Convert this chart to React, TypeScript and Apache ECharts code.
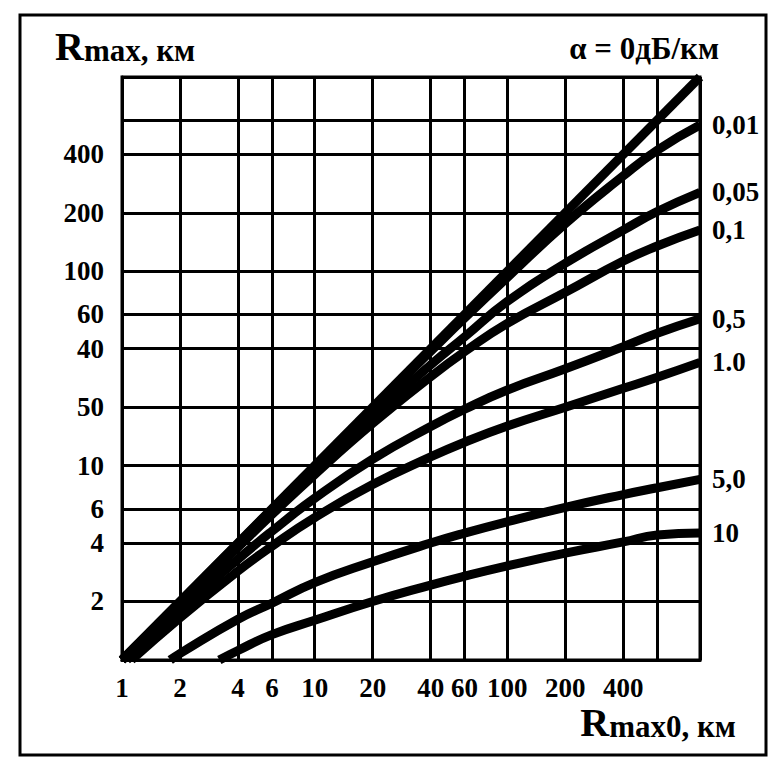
import React, { useEffect, useRef } from 'react';
import * as echarts from 'echarts';

// grid line positions (both axes), as drawn on the nomogram
const gridValues = [1, 2, 4, 6, 10, 20, 40, 60, 100, 200, 400, 600, 1000];
// printed tick labels
const xTickValues = [1, 2, 4, 6, 10, 20, 40, 60, 100, 200, 400];
const yTickValues = [2, 4, 6, 10, 20, 40, 60, 100, 200, 400];
const yTickText: Record<number, string> = { 2: '2', 4: '4', 6: '6', 10: '10', 20: '50', 40: '40', 60: '60', 100: '100', 200: '200', 400: '400' };

// curves: [Rmax0, Rmax]
const alpha0 = [[1, 1], [1000, 1000]];
const alpha001 = [[1, 1], [10, 9.9], [20, 19.7], [40, 38.8], [60, 57.5], [100, 93], [200, 176], [400, 310], [600, 420], [1000, 566]];
const alpha005 = [[1, 1], [2, 1.98], [4, 3.9], [6, 5.8], [10, 9.5], [20, 18], [40, 33], [60, 46], [100, 70], [200, 110], [400, 163], [600, 203], [1000, 255]];
const alpha01 = [[1, 1], [2, 1.95], [4, 3.8], [6, 5.6], [10, 9], [20, 16.5], [40, 28.7], [60, 38.6], [100, 54], [200, 78], [400, 113], [600, 135], [1000, 163]];
const alpha05 = [[1.06, 1], [2, 1.8], [4, 3.3], [6, 4.6], [10, 6.8], [20, 10.8], [40, 15.9], [60, 19.5], [100, 24.5], [200, 31.5], [400, 41], [600, 48], [1000, 57]];
const alpha1 = [[1.12, 1], [2, 1.65], [4, 2.87], [6, 3.85], [10, 5.4], [20, 8], [40, 11.1], [60, 13.2], [100, 16], [200, 20], [400, 25], [600, 28.5], [1000, 34]];
const alpha5 = [[1.78, 1], [2, 1.08], [4, 1.62], [6, 1.96], [10, 2.5], [20, 3.2], [40, 4], [60, 4.5], [100, 5.15], [200, 6.1], [400, 7.1], [600, 7.7], [1000, 8.5]];
const alpha10 = [[3.2, 1], [4, 1.12], [6, 1.35], [10, 1.6], [20, 2], [40, 2.43], [60, 2.7], [100, 3.05], [200, 3.55], [400, 4.05], [600, 4.4], [1000, 4.5]];

const seriesNames = ['0', '0,01', '0,05', '0,1', '0,5', '1.0', '5,0', '10'];
const seriesData = [alpha0, alpha001, alpha005, alpha01, alpha05, alpha1, alpha5, alpha10];

const FONT = 'Liberation Serif';

export default function App() {
  const ref = useRef<HTMLDivElement>(null);
  useEffect(() => {
    if (!ref.current) return;
    const chart = echarts.init(ref.current, null, { renderer: 'svg' });
    const labelStyle = { color: '#000', fontFamily: FONT, fontWeight: 'bold' as const, fontSize: 27 };
    const big = { fontFamily: FONT, fontWeight: 'bold', fontSize: 40, fill: '#000', verticalAlign: 'bottom', lineHeight: 44 };
    const small = { fontFamily: FONT, fontWeight: 'bold', fontSize: 31, fill: '#000', verticalAlign: 'bottom', lineHeight: 44 };
    const option = {
      animation: false,
      backgroundColor: '#fff',
      grid: { left: 122, top: 77, width: 578, height: 583, show: true, borderColor: '#000', borderWidth: 3, containLabel: false },
      xAxis: {
        type: 'log', logBase: 10, min: 1, max: 1000,
        axisLine: { show: true, lineStyle: { color: '#000', width: 3 } },
        axisTick: { show: false, customValues: gridValues },
        splitLine: { show: true, lineStyle: { color: '#000', width: 3 } },
        axisLabel: {
          ...labelStyle, margin: 14, customValues: xTickValues,
          formatter: (v: number) => String(Math.round(v)),
        },
      },
      yAxis: {
        type: 'log', logBase: 10, min: 1, max: 1000,
        axisLine: { show: true, lineStyle: { color: '#000', width: 3 } },
        axisTick: { show: false, customValues: gridValues },
        splitLine: { show: true, lineStyle: { color: '#000', width: 3 } },
        axisLabel: {
          ...labelStyle, margin: 18, customValues: yTickValues,
          formatter: (v: number) => yTickText[Math.round(v)] ?? String(Math.round(v)),
        },
      },
      series: seriesData.map((d, i) => ({
        type: 'line',
        name: seriesNames[i],
        data: d,
        smooth: true,
        symbol: 'none',
        clip: true,
        lineStyle: { color: '#000', width: 9, cap: 'butt' },
        endLabel: i === 0 ? { show: false } : {
          show: true, formatter: seriesNames[i], distance: 12, ...labelStyle,
        },
      })),
      graphic: [
        { type: 'rect', shape: { x: 20, y: 15, width: 746, height: 740 }, style: { fill: 'none', stroke: '#000', lineWidth: 3 } },
        {
          type: 'text', x: 55, y: 66,
          style: { text: '{r|R}{s|max, км}', verticalAlign: 'bottom', rich: { r: big, s: small } },
        },
        {
          type: 'text', x: 719, y: 48,
          style: { text: 'α = 0дБ/км', align: 'right', verticalAlign: 'middle', fontFamily: FONT, fontWeight: 'bold', fontSize: 31, fill: '#000' },
        },
        {
          type: 'text', x: 736, y: 742,
          style: { text: '{r|R}{s|max0, км}', align: 'right', verticalAlign: 'bottom', rich: { r: big, s: small } },
        },
      ],
    };
    chart.setOption(option as any);
    return () => chart.dispose();
  }, []);
  return <div ref={ref} style={{ position: 'fixed', left: 0, top: 0, width: 769, height: 757 }} />;
}
